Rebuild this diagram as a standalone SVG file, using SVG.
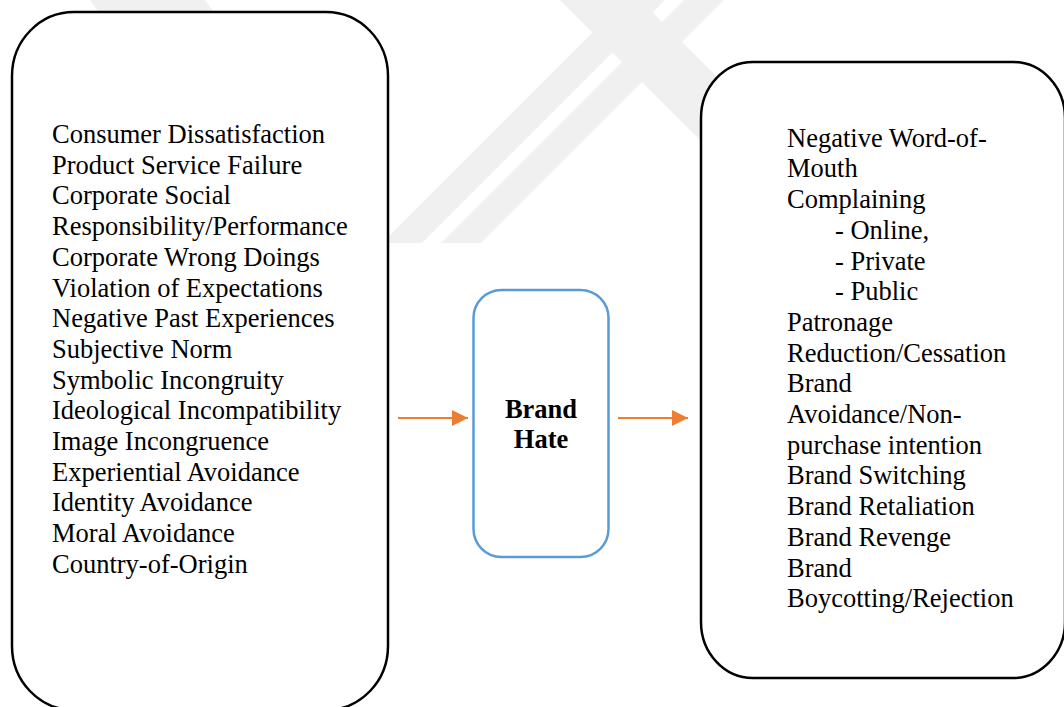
<svg xmlns="http://www.w3.org/2000/svg" width="1064" height="707" viewBox="0 0 1064 707">
  <defs>
    <style>
      .box { fill: #ffffff; stroke: #000000; stroke-width: 2.5; }
      .core { fill: #ffffff; stroke: #5B9BD5; stroke-width: 2.5; }
      .item { font-family: "Liberation Serif", "Times New Roman", serif; font-size: 26.5px; fill: #000000; }
      .title { font-family: "Liberation Serif", "Times New Roman", serif; font-size: 26.5px; font-weight: bold; fill: #000000; text-anchor: middle; }
      .wm { fill: #f0f0f0; }
      .link { stroke: #ED7D31; stroke-width: 1.8; fill: none; }
    </style>
    <marker id="arrow" markerWidth="16" markerHeight="16" refX="16" refY="8" orient="auto" markerUnits="userSpaceOnUse">
      <path d="M0,0 L16,8 L0,16 Z" fill="#ED7D31"/>
    </marker>
  </defs>

  <rect width="1064" height="707" fill="#ffffff"/>

  <!-- faint background emblem, drawn under the boxes -->
  <g id="emblem">
    <polygon class="wm" points="625,0 665,0 422,243 382,243"/>
    <polygon class="wm" points="684,0 724,0 481,243 441,243"/>
    <polygon class="wm" points="560,0 640,0 760,120 760,200"/>
    <polygon class="wm" points="90,0 205,0 215,14 100,14"/>
  </g>

  <!-- antecedents -->
  <g id="antecedents">
    <rect class="box" x="12" y="12" width="376" height="698" rx="62" ry="64"/>
    <text class="item" x="52">
      <tspan x="52" y="143">Consumer Dissatisfaction</tspan>
      <tspan x="52" y="173.7">Product Service Failure</tspan>
      <tspan x="52" y="204.4">Corporate Social</tspan>
      <tspan x="52" y="235.1">Responsibility/Performance</tspan>
      <tspan x="52" y="265.8">Corporate Wrong Doings</tspan>
      <tspan x="52" y="296.5">Violation of Expectations</tspan>
      <tspan x="52" y="327.2">Negative Past Experiences</tspan>
      <tspan x="52" y="357.9">Subjective Norm</tspan>
      <tspan x="52" y="388.6">Symbolic Incongruity</tspan>
      <tspan x="52" y="419.3">Ideological Incompatibility</tspan>
      <tspan x="52" y="450">Image Incongruence</tspan>
      <tspan x="52" y="480.7">Experiential Avoidance</tspan>
      <tspan x="52" y="511.4">Identity Avoidance</tspan>
      <tspan x="52" y="542.1">Moral Avoidance</tspan>
      <tspan x="52" y="572.8">Country-of-Origin</tspan>
    </text>
  </g>

  <!-- central construct -->
  <g id="brand-hate">
    <rect class="core" x="473.5" y="290" width="135" height="267" rx="28" ry="28"/>
    <text class="title" x="541" y="418">Brand</text>
    <text class="title" x="541" y="448">Hate</text>
  </g>

  <!-- outcomes -->
  <g id="outcomes">
    <rect class="box" x="701" y="62" width="364" height="616" rx="52" ry="56"/>
    <text class="item">
      <tspan x="787" y="146.7">Negative Word-of-</tspan>
      <tspan x="787" y="177.4">Mouth</tspan>
      <tspan x="787" y="208.1">Complaining</tspan>
      <tspan x="835" y="238.8">- Online,</tspan>
      <tspan x="835" y="269.5">- Private</tspan>
      <tspan x="835" y="300.2">- Public</tspan>
      <tspan x="787" y="330.9">Patronage</tspan>
      <tspan x="787" y="361.6">Reduction/Cessation</tspan>
      <tspan x="787" y="392.3">Brand</tspan>
      <tspan x="787" y="423">Avoidance/Non-</tspan>
      <tspan x="787" y="453.7">purchase intention</tspan>
      <tspan x="787" y="484.4">Brand Switching</tspan>
      <tspan x="787" y="515.1">Brand Retaliation</tspan>
      <tspan x="787" y="545.8">Brand Revenge</tspan>
      <tspan x="787" y="576.5">Brand</tspan>
      <tspan x="787" y="607.2">Boycotting/Rejection</tspan>
    </text>
  </g>

  <!-- connectors -->
  <g id="connectors">
    <line class="link" x1="398" y1="418" x2="468" y2="418" marker-end="url(#arrow)"/>
    <line class="link" x1="618" y1="418" x2="688" y2="418" marker-end="url(#arrow)"/>
  </g>
</svg>
